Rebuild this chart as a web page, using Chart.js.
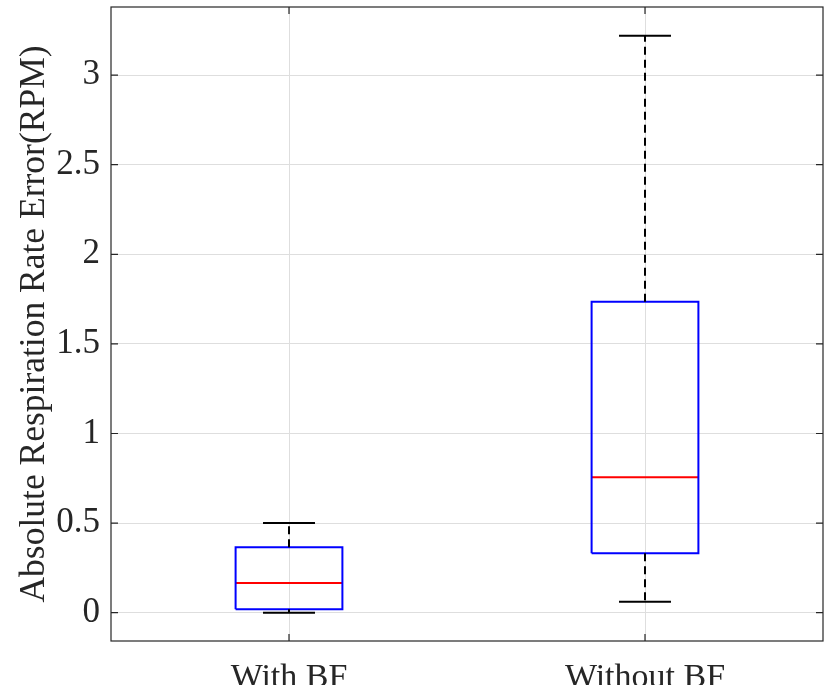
<!DOCTYPE html>
<html>
<head>
<meta charset="utf-8">
<script src="https://cdn.jsdelivr.net/npm/chart.js@4"></script>
<style>
  html, body { margin: 0; padding: 0; background: #fff; }
  #wrap { width: 830px; height: 685px; position: relative; }
</style>
</head>
<body>
<div id="wrap"><canvas id="chart"></canvas></div>
<script>
// Box plot summary per group
const categories = ['With BF', 'Without BF'];
const positions = [1, 2];
const lowerWhisker = [0.0, 0.061];
const q1 = [0.019, 0.332];
const median = [0.166, 0.756];
const q3 = [0.365, 1.735];
const upperWhisker = [0.50, 3.22];
const yTicks = [0, 0.5, 1, 1.5, 2, 2.5, 3];

const BOX_W = 0.30;
const CAP_W = 0.146;
const FONT = "'Liberation Serif', 'Times New Roman', serif";
const AXIS_COLOR = '#262626';

function seg(x0, y0, x1, y1) {
  return [{ x: x0, y: y0 }, { x: x1, y: y1 }];
}

function lineSet(data, color, dash) {
  return {
    data,
    borderColor: color,
    borderWidth: 2,
    borderDash: dash || [],
    borderJoinStyle: 'miter',
    borderCapStyle: 'butt',
    pointRadius: 0,
    tension: 0,
    fill: false,
  };
}

const datasets = [];
positions.forEach((p, i) => {
  const b = BOX_W / 2, c = CAP_W / 2;
  datasets.push(lineSet(seg(p, q3[i], p, upperWhisker[i]), '#000', [8, 5]));
  datasets.push(lineSet(seg(p, q1[i], p, lowerWhisker[i]), '#000', [8, 5]));
  datasets.push(lineSet(seg(p - c, upperWhisker[i], p + c, upperWhisker[i]), '#000'));
  datasets.push(lineSet(seg(p - c, lowerWhisker[i], p + c, lowerWhisker[i]), '#000'));
  datasets.push(lineSet([
    { x: p - b, y: q1[i] }, { x: p + b, y: q1[i] },
    { x: p + b, y: q3[i] }, { x: p - b, y: q3[i] },
    { x: p - b, y: q1[i] },
  ], '#0000ff'));
  datasets.push(lineSet(seg(p - b, median[i], p + b, median[i]), '#ff0000'));
});

// MATLAB-like frame: full box with inward tick marks
const framePlugin = {
  id: 'frame',
  afterDraw(chart) {
    const { ctx, chartArea: a, scales } = chart;
    const len = 7;
    ctx.save();
    ctx.strokeStyle = AXIS_COLOR;
    ctx.lineWidth = 1.2;
    ctx.strokeRect(a.left, a.top, a.right - a.left, a.bottom - a.top);
    ctx.beginPath();
    scales.y.ticks.forEach((t) => {
      const y = scales.y.getPixelForValue(t.value);
      ctx.moveTo(a.left, y); ctx.lineTo(a.left + len, y);
      ctx.moveTo(a.right, y); ctx.lineTo(a.right - len, y);
    });
    scales.x.ticks.forEach((t) => {
      const x = scales.x.getPixelForValue(t.value);
      ctx.moveTo(x, a.bottom); ctx.lineTo(x, a.bottom - len);
      ctx.moveTo(x, a.top); ctx.lineTo(x, a.top + len);
    });
    ctx.stroke();
    ctx.restore();
  },
};

new Chart(document.getElementById('chart'), {
  type: 'line',
  data: { datasets },
  plugins: [framePlugin],
  options: {
    responsive: true,
    maintainAspectRatio: false,
    animation: false,
    layout: { padding: { top: 7, right: 7, left: 0, bottom: 0 } },
    plugins: { legend: { display: false }, tooltip: { enabled: false } },
    scales: {
      x: {
        type: 'linear',
        min: 0.5,
        max: 2.5,
        afterBuildTicks(scale) { scale.ticks = positions.map((v) => ({ value: v })); },
        afterFit(scale) { scale.height = 44; scale.paddingLeft = 0; scale.paddingRight = 0; },
        grid: { color: '#dedede', drawTicks: false },
        border: { display: false },
        ticks: {
          padding: 17,
          color: AXIS_COLOR,
          font: { family: FONT, size: 34 },
          callback: (v) => categories[positions.indexOf(v)] || '',
        },
      },
      y: {
        min: -0.158,
        max: 3.38,
        afterBuildTicks(scale) { scale.ticks = yTicks.map((v) => ({ value: v })); },
        afterFit(scale) { scale.width = 111; scale.paddingTop = 0; scale.paddingBottom = 0; },
        grid: { color: '#dedede', drawTicks: false },
        border: { display: false },
        ticks: {
          padding: 11,
          color: AXIS_COLOR,
          font: { family: FONT, size: 35 },
          callback: (v) => String(v),
        },
        title: {
          display: true,
          text: 'Absolute Respiration Rate Error(RPM)',
          color: AXIS_COLOR,
          font: { family: FONT, size: 35.5 },
          padding: { top: 13, bottom: 0 },
        },
      },
    },
  },
});
</script>
</body>
</html>
